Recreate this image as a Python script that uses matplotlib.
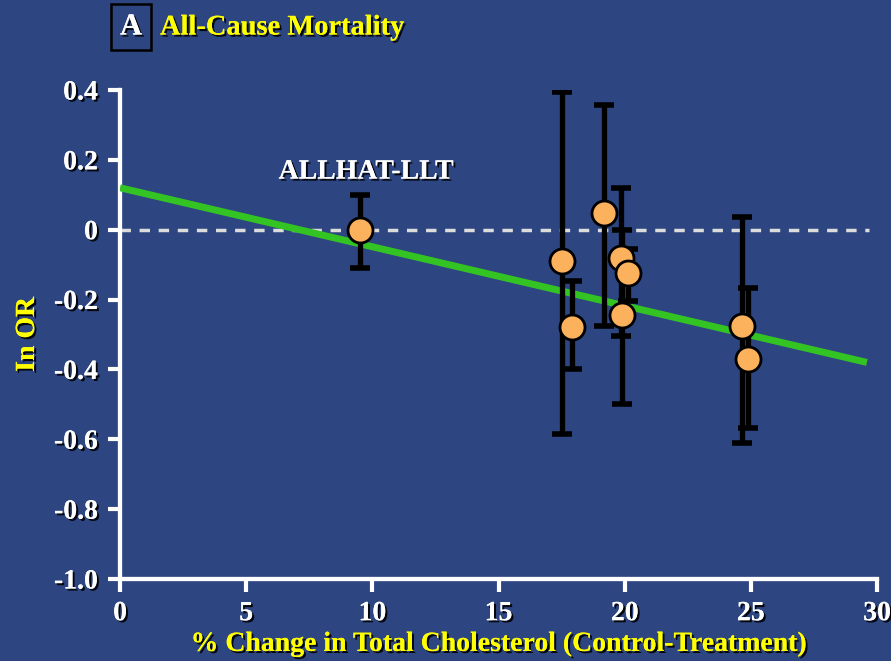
import matplotlib
matplotlib.use('Agg')
import matplotlib.pyplot as plt
import matplotlib.patheffects as pe

# 데이터: 각 시험의 콜레스테롤 변화(%)와 ln OR, 신뢰구간
chol_change = [9.5, 17.5, 17.9, 19.2, 19.85, 20.15, 19.9, 24.65, 24.9]
ln_or = [0.0, -0.09, -0.28, 0.047, -0.08, -0.125, -0.245, -0.275, -0.37]
ci_low = [-0.11, -0.585, -0.40, -0.277, -0.305, -0.205, -0.50, -0.61, -0.567]
ci_high = [0.098, 0.394, -0.148, 0.357, 0.119, -0.056, 0.0, 0.036, -0.168]

# 회귀선 끝점
fit_x = [0, 29.6]
fit_y = [0.12, -0.38]

x_ticks = [0, 5, 10, 15, 20, 25, 30]
y_ticks = [0.4, 0.2, 0, -0.2, -0.4, -0.6, -0.8, -1.0]
y_tick_labels = ['0.4', '0.2', '0', '-0.2', '-0.4', '-0.6', '-0.8', '-1.0']

BG = '#2d4580'
FONT = 'Liberation Serif'
shadow = [pe.withSimplePatchShadow(offset=(1.5, -1.5), shadow_rgbFace='black', alpha=0.9), pe.Normal()]

fig = plt.figure(figsize=(8.91, 6.61), dpi=100)
fig.patch.set_facecolor(BG)
ax = fig.add_axes([0.1347, 0.1241, 0.8496, 0.7398])
ax.set_facecolor('none')

ax.set_xlim(0, 30)
ax.set_ylim(-1.0, 0.4)

# 0 기준 점선
ax.plot([0, 29.7], [0, 0], color='#dcdcdc', lw=2.5, dashes=(3, 2.5), zorder=2)

# 회귀선
ax.plot(fit_x, fit_y, color='#33c424', lw=5, solid_capstyle='butt', zorder=3)

# 오차 막대
yerr = [[v - lo for v, lo in zip(ln_or, ci_low)], [hi - v for v, hi in zip(ln_or, ci_high)]]
ax.errorbar(chol_change, ln_or, yerr=yerr, fmt='none', ecolor='black',
            elinewidth=3.8, capsize=7, capthick=4, zorder=4)

# 점
ax.plot(chol_change, ln_or, 'o', ms=18, mfc='#fcb15c', mec='black', mew=2, zorder=5)

# 축 스타일
for s in ['top', 'right']:
    ax.spines[s].set_visible(False)
for s in ['left', 'bottom']:
    ax.spines[s].set_color('white')
    ax.spines[s].set_linewidth(3)
    ax.spines[s].set_path_effects([pe.withSimplePatchShadow(offset=(2, -2), shadow_rgbFace='black', alpha=1), pe.Normal()])

ax.set_xticks(x_ticks)
ax.set_yticks(y_ticks)
ax.set_yticklabels(y_tick_labels)
ax.tick_params(axis='both', colors='white', width=3, length=9, direction='out')
ax.tick_params(axis='y', pad=7)
ax.tick_params(axis='x', pad=7)
for lab in ax.get_yticklabels() + ax.get_xticklabels():
    lab.set_fontfamily(FONT)
    lab.set_fontweight('bold')
    lab.set_fontsize(20)
    lab.set_color('white')
    lab.set_path_effects(shadow)

ax.set_xlabel('% Change in Total Cholesterol (Control-Treatment)', fontfamily=FONT,
              fontweight='bold', fontsize=20, color='#ffff00', labelpad=4, path_effects=shadow)
ax.set_ylabel('In OR', fontfamily=FONT, fontweight='bold', fontsize=20,
              color='#ffff00', labelpad=10, path_effects=shadow)

# ALLHAT 라벨
ax.text(9.75, 0.165, 'ALLHAT-LLT', fontfamily=FONT, fontweight='bold', fontsize=20,
        color='white', ha='center', va='center', path_effects=shadow)

# 제목
fig.text(131 / 891, 1 - 27 / 661, 'A', fontfamily=FONT, fontweight='bold', fontsize=22,
         color='white', ha='center', va='center', path_effects=shadow,
         bbox=dict(boxstyle='square,pad=0.28', fc='none', ec='black', lw=1.8))
fig.text(160 / 891, 1 - 28 / 661, 'All-Cause Mortality', fontfamily=FONT, fontweight='bold',
         fontsize=20.5, color='#ffff00', ha='left', va='center', path_effects=shadow)

fig.savefig('out.png', dpi=100, facecolor=BG)
